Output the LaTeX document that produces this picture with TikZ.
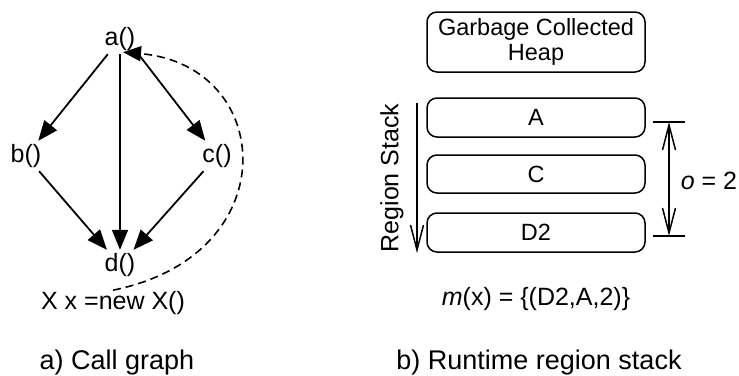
\documentclass[tikz,border=0pt]{standalone}
\usepackage{fontspec}
\setmainfont{Liberation Sans}
\usetikzlibrary{arrows.meta}
\begin{document}
\begin{tikzpicture}[x=1pt,y=-1pt,
  every node/.style={font=\fontsize{25}{27}\selectfont},
  fn/.style={inner xsep=3pt, inner ysep=0pt, minimum height=30pt},
  call/.style={line width=1.8pt, -{Triangle[length=20pt,width=16pt]}},
  back/.style={line width=1.6pt, dash pattern=on 8pt off 5pt, -{Triangle[length=18pt,width=15pt]}},
  region/.style={draw, line width=1.5pt, rounded corners=10pt, minimum width=218pt, inner sep=0pt, align=center,
    font=\fontsize{23.5}{25.5}\selectfont},
  barb/.style={line width=1.5pt, -{Straight Barb[length=25pt,width=13pt]}},
  dim/.style={line width=1.5pt, {Straight Barb[length=25pt,width=13pt]}-{Straight Barb[length=25pt,width=13pt]}},
  caption/.style={font=\fontsize{27}{30}\selectfont, anchor=base}]
\useasboundingbox (0,0) rectangle (739,375);

% call graph
\node[fn] (a) at (120,39) {a()};
\node[fn] (b) at (26,156) {b()};
\node[fn] (c) at (217,156) {c()};
\node[fn] (d) at (120,265) {d()};
\node[inner sep=1pt] (xnew) at (113,303) {X x =new X()};

\draw[call] (a) -- (b);
\draw[call] (a) -- (d);
\draw[call] (a.south east) -- (c);
\draw[call] (b) -- (d);
\draw[call] (c) -- (d);
\draw[back] (xnew.north) .. controls (288,255) and (275,65) .. ([xshift=3pt,yshift=2pt]a.south);

% runtime region stack
\node[region, minimum height=60pt] (heap) at (536,42) {Garbage Collected\\Heap};
\node[region, minimum height=39pt] (A) at (536,117.5) {A};
\node[region, minimum height=38pt] (C) at (536,174) {C};
\node[region, minimum height=39pt] (D2) at (536,232.5) {D2};

\coordinate (rtop) at (417,103);
\coordinate (rbot) at (417,253);
\draw[barb] (rtop) -- (rbot);
\node[rotate=90] (rs) at (392,178) {Region Stack};

\coordinate (dtop) at (669,122);
\coordinate (dbot) at (669,236);
\draw[line width=1.5pt] ([xshift=-16pt]dtop) -- ([xshift=16pt]dtop);
\draw[line width=1.5pt] ([xshift=-16pt]dbot) -- ([xshift=16pt]dbot);
\draw[dim] (dtop) -- (dbot);
\node (off) at (709,181) {\textit{o} = 2};

\node (mx) at (536,299) {\textit{m}(x) = \{(D2,A,2)\}};

% captions
\node[caption] (capa) at (117,369) {a) Call graph};
\node[caption] (capb) at (539,369) {b) Runtime region stack};
\end{tikzpicture}
\end{document}
